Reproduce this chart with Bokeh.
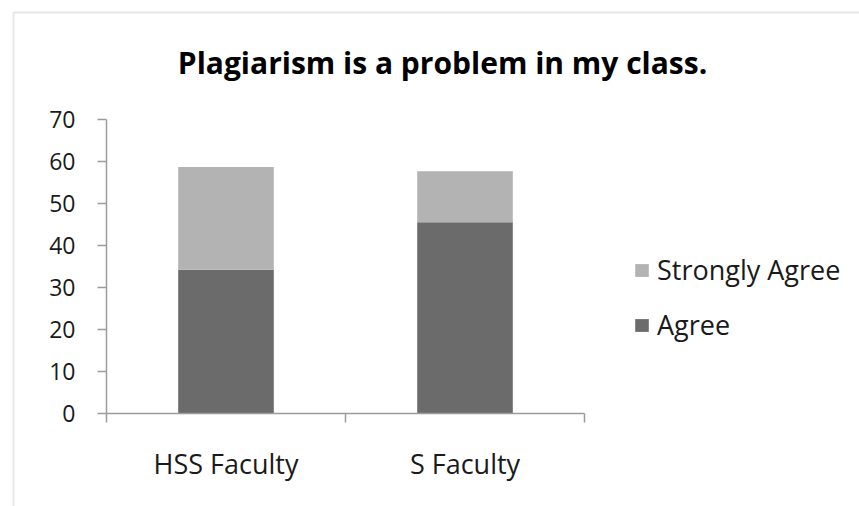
from bokeh.plotting import figure
from bokeh.models import (LinearAxis, FixedTicker, Range1d, Legend, LegendItem,
                          Label, BoxAnnotation, ColumnDataSource)
from bokeh.embed import file_html
from bokeh.resources import INLINE

# ---- data ----
categories = ["HSS Faculty", "S Faculty"]
agree = [34.2, 45.5]
strongly_agree = [24.4, 12.1]
y_ticks = [0, 10, 20, 30, 40, 50, 60, 70]
title_text = "Plagiarism is a problem in my class."

# ---- layout (page pixels) ----
W, H = 859, 506
OFF = 0
X0_PAGE = 106.0      # page x of x=0
UNIT_PX = 239.0      # px per category
Y0_PAGE = 413.3      # page y of y=0
Y_PX = 4.21          # px per y unit

x_start = (OFF - X0_PAGE) / UNIT_PX
x_end = x_start + W / UNIT_PX
y_end = (Y0_PAGE - OFF) / Y_PX
y_start = y_end - H / Y_PX


def dx(px):
    return (px - X0_PAGE) / UNIT_PX


def dy(py):
    return (Y0_PAGE - py) / Y_PX


FONT = "Open Sans"
DARK = "#6b6b6b"
LIGHT = "#b3b3b3"
AXIS = "#9c9c9c"

p = figure(width=W, height=H, x_range=Range1d(x_start, x_end),
           y_range=Range1d(y_start, y_end), x_axis_type=None, y_axis_type=None,
           title=None, toolbar_location=None, output_backend="svg",
           min_border=0, outline_line_color=None)
p.background_fill_color = "white"
p.border_fill_color = "white"

src = ColumnDataSource(dict(
    x=[i + 0.5 for i in range(len(categories))],
    agree=agree,
    strongly=strongly_agree,
))

rs = p.vbar_stack(["agree", "strongly"], x="x", width=0.4,
                  fill_color=[DARK, LIGHT], line_color=None, source=src)

# y axis
yaxis = LinearAxis(fixed_location=0, bounds=(y_ticks[0], y_ticks[-1]),
                   ticker=FixedTicker(ticks=y_ticks, minor_ticks=[]))
yaxis.axis_line_color = AXIS
yaxis.axis_line_width = 1.5
yaxis.major_tick_line_color = AXIS
yaxis.major_tick_line_width = 1.5
yaxis.major_tick_in = 0
yaxis.major_tick_out = 9
yaxis.minor_tick_line_color = None
yaxis.major_label_standoff = 22
yaxis.major_label_text_font = FONT
yaxis.major_label_text_font_size = "23px"
yaxis.major_label_text_color = "#1a1a1a"
p.add_layout(yaxis, "left")

# x axis line with boundary ticks
n = len(categories)
xaxis = LinearAxis(fixed_location=0, bounds=(0, n),
                   ticker=FixedTicker(ticks=list(range(n + 1)), minor_ticks=[]),
                   major_label_overrides={i: "" for i in range(n + 1)})
xaxis.axis_line_color = AXIS
xaxis.axis_line_width = 1.5
xaxis.major_tick_line_color = AXIS
xaxis.major_tick_line_width = 1.5
xaxis.major_tick_in = 0
xaxis.major_tick_out = 9
xaxis.minor_tick_line_color = None
p.add_layout(xaxis, "below")

# category labels
xlab = LinearAxis(fixed_location=0,
                  ticker=FixedTicker(ticks=[i + 0.5 for i in range(n)], minor_ticks=[]),
                  major_label_overrides={i + 0.5: c for i, c in enumerate(categories)})
xlab.axis_line_color = None
xlab.major_tick_line_color = None
xlab.minor_tick_line_color = None
xlab.major_tick_in = 0
xlab.major_tick_out = 0
xlab.major_label_standoff = 31
xlab.major_label_text_font = FONT
xlab.major_label_text_font_size = "27px"
xlab.major_label_text_color = "#1a1a1a"
p.add_layout(xlab, "below")

# chart border (left/top visible)
border = BoxAnnotation(left=dx(13), top=dy(12), right=x_end + 1, bottom=y_start - 5,
                       fill_color=None, line_color="#b0b0b0", line_width=2)
p.add_layout(border)

# title
title = Label(x=dx(442), y=dy(62), text=title_text, text_align="center",
              text_baseline="alphabetic", text_font=FONT, text_font_size="30px",
              text_font_style="bold", text_color="#000000")
p.add_layout(title)

legend = Legend(items=[LegendItem(label="Strongly Agree", renderers=[rs[1]]),
                       LegendItem(label="Agree", renderers=[rs[0]])],
                location=(633, 163))
legend.padding = 0
legend.margin = 0
legend.spacing = 18
legend.glyph_width = 17
legend.glyph_height = 16
legend.label_standoff = 7
legend.label_text_font = FONT
legend.label_text_font_size = "27px"
legend.label_text_color = "#1a1a1a"
legend.border_line_color = None
legend.background_fill_alpha = 0
p.add_layout(legend)

open("out.html", "w").write(file_html(p, INLINE))
